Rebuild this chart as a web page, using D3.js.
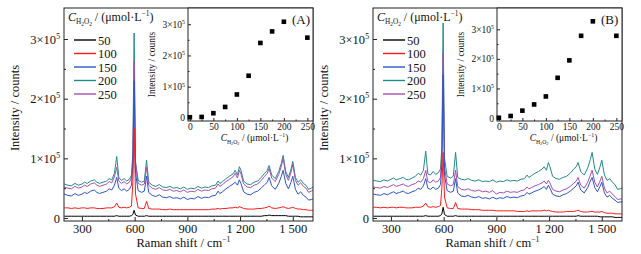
<!DOCTYPE html>
<html>
<head>
<meta charset="utf-8">
<script src="https://cdn.jsdelivr.net/npm/d3@7"></script>
<style>
  body { margin: 0; background: #fff; }
  svg, svg text { font-family: "Liberation Serif", "Times New Roman", serif; }
  .tick line { stroke: #222; }
</style>
</head>
<body>
<svg id="chart" width="641" height="254"></svg>
<script>
// Raman shift grid (cm-1) shared by every spectrum
var shift = [200,220,240,260,280,300,315,330,350,370,
  385,400,420,440,455,470,485,498,510,525,
  540,555,570,582,590,597,605,620,640,655,
  668,680,700,720,740,760,780,800,820,840,
  860,880,900,920,940,960,980,1000,1020,1040,
  1060,1075,1085,1100,1120,1140,1160,1172,1185,1196,
  1205,1220,1240,1260,1280,1300,1320,1340,1355,1365,
  1380,1400,1420,1435,1445,1460,1475,1490,1500,1515,
  1530,1545,1560,1575,1590,1605,1615];

var concentrations = [50, 100, 150, 200, 250];
var seriesColors = ["#000000", "#ff1a1a", "#2c54c8", "#238a87", "#a24fb4"];

// spectra, intensity in 10^3 counts — panel A
var specA50 = [3,3,3,3,3,3,3,3,3,3, 3,3,3,3,3,3,3,4,3,3, 3,3,3,4,6,13,5,3,3,3,
  4,3,3,3,3,3,3,3,3,3, 3,3,3,3,3,3,3,3,3,3, 3,3,3,3,3,3,3,3,3,3,
  3,3,3,3,3,3,3,4,4,5, 4,4,4,4,4,4,3,3,3,3, 3,2,2,2,2,2,2];
var specA100 = [17,17,16,17,16,17,17,16,17,17, 16,16,16,17,17,17,19,25,18,17,
  18,17,18,20,60,150,40,17,16,16, 28,16,15,15,15,14,14,15,14,14,
  14,14,14,14,14,14,14,14,14,15, 15,16,15,16,16,17,17,18,17,19,
  18,16,15,15,15,16,16,17,18,20, 17,16,17,18,19,17,16,17,18,16,
  15,15,14,14,13,13,13];
var specA150 = [40,38,37,41,38,40,43,41,45,47, 43,41,43,45,49,47,55,68,50,46,
  49,45,48,55,90,230,75,46,43,45, 70,43,38,36,39,35,34,36,33,34,
  32,35,31,33,32,36,33,35,34,37, 38,45,41,44,49,53,57,60,55,64,
  58,44,40,39,43,45,50,56,60,68, 54,48,58,70,80,58,49,60,70,48,
  40,44,38,35,30,31,32];
var specA200 = [57,55,54,58,55,57,60,58,62,64, 60,58,60,62,66,64,75,103,68,63,
  66,62,65,72,110,310,95,63,60,62, 97,60,55,53,56,52,51,53,50,51,
  49,52,48,50,49,53,50,52,51,54, 55,62,58,61,66,70,74,80,72,86,
  80,62,57,56,60,62,68,75,80,88, 72,66,78,92,105,78,68,82,95,68,
  60,64,58,55,48,50,52];
var specA250 = [52,50,49,53,50,52,55,53,57,59, 55,53,55,57,61,59,69,85,62,58,
  61,57,60,67,100,263,88,58,55,57, 85,55,50,48,51,47,46,48,45,46,
  44,47,43,45,44,48,45,47,46,49, 50,57,53,56,61,65,69,75,67,80,
  74,57,52,51,55,57,63,70,75,83, 67,61,73,87,100,73,63,77,90,63,
  55,59,53,50,43,45,47];

// spectra, intensity in 10^3 counts — panel B
var specB50 = [3,3,3,3,3,3,3,3,3,3, 3,3,3,3,3,3,3,4,3,3, 3,3,3,4,7,18,6,3,3,3,
  4,3,3,3,3,3,3,3,3,3, 3,3,3,3,3,3,3,3,3,3, 3,3,3,3,3,3,3,3,3,3,
  3,3,3,3,3,3,3,3,3,4, 3,3,3,3,3,3,3,2,2,2, 2,2,2,1,1,1,1];
var specB100 = [18,18,17,18,17,18,18,17,18,18, 17,17,17,18,18,18,20,25,19,18,
  19,18,19,21,50,110,35,17,16,16, 26,16,15,15,15,14,14,14,13,13,
  13,13,12,12,12,12,12,12,11,11, 11,12,11,12,12,12,12,13,12,13,
  12,11,10,10,10,11,11,11,12,13, 11,10,10,11,11,10,10,10,11,9,
  8,8,8,7,7,7,7];
var specB150 = [40,39,38,41,39,42,44,41,43,45, 42,41,44,46,50,48,54,66,50,48,
  52,48,50,56,90,240,72,46,43,45, 66,42,37,36,38,35,34,36,33,34,
  32,35,32,34,33,36,34,35,34,37, 38,43,40,42,45,47,50,53,48,55,
  50,40,37,36,39,41,45,50,54,60, 47,42,51,62,68,51,44,53,60,42,
  35,38,33,30,26,27,27];
var specB200 = [63,62,61,64,62,65,67,64,66,68, 65,64,67,70,75,72,80,112,74,72,
  78,73,76,82,120,327,100,70,67,70, 110,68,65,64,66,63,62,64,61,62,
  61,64,60,62,61,64,62,63,62,65, 66,72,68,71,75,78,82,86,80,93,
  86,70,66,65,68,70,75,82,86,93, 78,72,84,98,110,82,73,86,97,72,
  63,66,60,56,48,49,50];
var specB250 = [52,51,50,53,51,54,56,53,55,57, 54,53,56,58,62,60,66,80,61,59,
  64,60,62,68,105,277,85,57,54,56, 80,53,48,47,49,46,45,47,44,45,
  43,46,40,43,42,45,43,44,43,46, 47,52,49,51,54,56,59,62,57,63,
  59,48,45,44,47,49,53,58,62,68, 55,50,60,72,80,60,52,62,70,50,
  42,45,40,36,31,32,32];

// inset: peak intensity vs concentration (10^3 counts)
var insetConc = [0, 25, 50, 75, 100, 125, 150, 175, 200, 250];
var insetA = [2, 3, 15, 35, 75, 135, 240, 277, 308, 257];
var insetErrA = [1, 1, 1, 1, 1, 1, 5, 1, 3, 1];
var insetB = [1, 7, 25, 46, 73, 136, 195, 278, 327, 278];
var insetErrB = [1, 1, 1, 1, 1, 1, 2, 3, 6, 4];

var svg = d3.select("#chart");
var serif = "'Liberation Serif', 'Times New Roman', serif";

function rich(g, x, y, size, parts, anchor) {
    var t = g.append("text")
        .attr("x", x).attr("y", y)
        .attr("font-size", size)
        .attr("font-family", serif)
        .attr("fill", "#111")
        .attr("text-anchor", anchor || "start");
    var cur = 0;
    parts.forEach(function (p) {
        var off = (p.off || 0) * size;
        t.append("tspan")
            .attr("dy", off - cur)
            .attr("font-size", (p.s || 1) * size)
            .attr("font-style", p.i ? "italic" : null)
            .text(p.t);
        cur = off;
    });
    return t;
}

var concParts = [{t: "C", i: 1}, {t: "H", s: 0.6, off: 0.28}, {t: "2", s: 0.45, off: 0.42},
    {t: "O", s: 0.6, off: 0.28}, {t: "2", s: 0.45, off: 0.42},
    {t: " / (\u03bcmol\u00b7L"}, {t: "\u22121", s: 0.62, off: -0.38}, {t: ")"}];

function expLabel(sel, d, size) {
    sel.text(null);
    if (d === 0) { sel.text("0"); return; }
    sel.append("tspan").text((d / 100) + "\u00d710");
    sel.append("tspan").attr("dy", -size * 0.38).attr("font-size", size * 0.62).text("5");
}

function cleanAxis(ax, size) {
    ax.attr("font-family", serif).attr("font-size", size);
    ax.select(".domain").remove();
    ax.selectAll("text").attr("fill", "#111");
    return ax;
}

function drawPanel(o) {
    var L = o.left, R = L + 249, T = 8, B = 221;
    var g = svg.append("g");

    var x = d3.scaleLinear().domain([198, 1615]).range([L, R]);
    var y = d3.scaleLinear().domain([-5, 352]).range([B, T]);

    // spectra: highest concentration first so lower ones sit on top
    var line = d3.line()
        .x(function (d, i) { return x(shift[i]); })
        .y(function (d) { return y(d); });
    var order = [3, 4, 2, 1, 0];
    order.forEach(function (k) {
        g.append("path")
            .datum(o.spectra[k])
            .attr("fill", "none")
            .attr("stroke", seriesColors[k])
            .attr("stroke-width", 1)
            .attr("d", line);
    });

    // main axes, ticks inward
    cleanAxis(g.append("g").attr("transform", "translate(0," + B + ")")
        .call(d3.axisBottom(x).tickValues([300, 600, 900, 1200, 1500])
            .tickSizeInner(-4).tickSizeOuter(0).tickPadding(3)
            .tickFormat(function (d) { return d >= 1000 ? Math.floor(d / 1000) + " " + String(d).slice(1) : d; })), 12.5);
    cleanAxis(g.append("g").attr("transform", "translate(0," + B + ")")
        .call(d3.axisBottom(x).tickValues([450, 750, 1050, 1350]).tickSize(-2).tickFormat("")), 12.5);

    var yAx = cleanAxis(g.append("g").attr("transform", "translate(" + L + ",0)")
        .call(d3.axisLeft(y).tickValues([0, 100, 200, 300])
            .tickSizeInner(-4).tickSizeOuter(0).tickPadding(4)), 12.5);
    yAx.selectAll("text").each(function (d) { expLabel(d3.select(this), d, 12.5); });
    cleanAxis(g.append("g").attr("transform", "translate(" + L + ",0)")
        .call(d3.axisLeft(y).tickValues([50, 150, 250]).tickSize(-2).tickFormat("")), 12.5);

    g.append("rect").attr("x", L).attr("y", T).attr("width", R - L).attr("height", B - T)
        .attr("fill", "none").attr("stroke", "#222").attr("stroke-width", 1);

    rich(g, (L + R) / 2 - 5, 247, 12.5, [{t: "Raman shift / cm"}, {t: "\u22121", s: 0.62, off: -0.38}], "middle");
    g.append("text")
        .attr("transform", "translate(" + (L - 45) + ",108)rotate(-90)")
        .attr("text-anchor", "middle").attr("font-size", 12.5).attr("font-family", serif)
        .attr("fill", "#111")
        .text("Intensity / counts");

    // legend
    rich(g, L + 4, 21, 12, concParts, "start");
    concentrations.forEach(function (c, i) {
        var ly = 40 + i * 13.5;
        g.append("line").attr("x1", L + 10).attr("x2", L + 32).attr("y1", ly).attr("y2", ly)
            .attr("stroke", seriesColors[i]).attr("stroke-width", 1.4);
        g.append("text").attr("x", L + 34).attr("y", ly + 4.5).attr("font-size", 12.5)
            .attr("font-family", serif).attr("fill", "#111").text(c);
    });

    // inset
    var iL = L + 124, iR = R, iT = T, iB = 121;
    var ix = d3.scaleLinear().domain([-4, 262]).range([iL, iR]);
    var iy = d3.scaleLinear().domain(o.insetDomain).range([iB, iT]);
    var ig = svg.append("g");
    ig.append("rect").attr("x", iL).attr("y", iT).attr("width", iR - iL).attr("height", iB - iT)
        .attr("fill", "#fff").attr("stroke", "#222").attr("stroke-width", 1);

    cleanAxis(ig.append("g").attr("transform", "translate(0," + iB + ")")
        .call(d3.axisBottom(ix).tickValues([0, 50, 100, 150, 200, 250])
            .tickSizeInner(-3).tickSizeOuter(0).tickPadding(2)), 9.5);
    cleanAxis(ig.append("g").attr("transform", "translate(0," + iB + ")")
        .call(d3.axisBottom(ix).tickValues([25, 75, 125, 175, 225]).tickSize(-1.5).tickFormat("")), 9.5);

    var iyAx = cleanAxis(ig.append("g").attr("transform", "translate(" + iL + ",0)")
        .call(d3.axisLeft(iy).tickValues([0, 100, 200, 300])
            .tickSizeInner(-3).tickSizeOuter(0).tickPadding(3)), 9.5);
    iyAx.selectAll("text").each(function (d) { expLabel(d3.select(this), d, 9.5); });
    cleanAxis(ig.append("g").attr("transform", "translate(" + iL + ",0)")
        .call(d3.axisLeft(iy).tickValues([50, 150, 250]).tickSize(-1.5).tickFormat("")), 9.5);

    rich(ig, (iL + iR) / 2 + 4, 141, 9.5, concParts, "middle");
    ig.append("text")
        .attr("transform", "translate(" + (iL - 33) + "," + ((iT + iB) / 2) + ")rotate(-90)")
        .attr("text-anchor", "middle").attr("font-size", 9.5).attr("font-family", serif)
        .attr("fill", "#111")
        .text("Intensity / counts");

    ig.selectAll(".err")
        .data(o.inset)
        .enter().append("line")
        .attr("class", "err")
        .attr("x1", function (d, i) { return ix(insetConc[i]); })
        .attr("x2", function (d, i) { return ix(insetConc[i]); })
        .attr("y1", function (d, i) { return iy(d - o.insetErr[i]); })
        .attr("y2", function (d, i) { return iy(d + o.insetErr[i]); })
        .attr("stroke", "#000").attr("stroke-width", 1);

    ig.selectAll(".dot")
        .data(o.inset)
        .enter().append("rect")
        .attr("class", "dot")
        .attr("x", function (d, i) { return ix(insetConc[i]) - 2.3; })
        .attr("y", function (d) { return iy(d) - 2.3; })
        .attr("width", 4.6).attr("height", 4.6)
        .attr("fill", "#000");

    ig.append("text").attr("x", iR - 21).attr("y", 24).attr("font-size", 13)
        .attr("font-family", serif).attr("fill", "#111").text(o.label);
}

drawPanel({
    left: 64,
    spectra: [specA50, specA100, specA150, specA200, specA250],
    inset: insetA, insetErr: insetErrA, insetDomain: [-10, 352], label: "(A)"
});
drawPanel({
    left: 373,
    spectra: [specB50, specB100, specB150, specB200, specB250],
    inset: insetB, insetErr: insetErrB, insetDomain: [-10, 372], label: "(B)"
});
</script>
</body>
</html>
